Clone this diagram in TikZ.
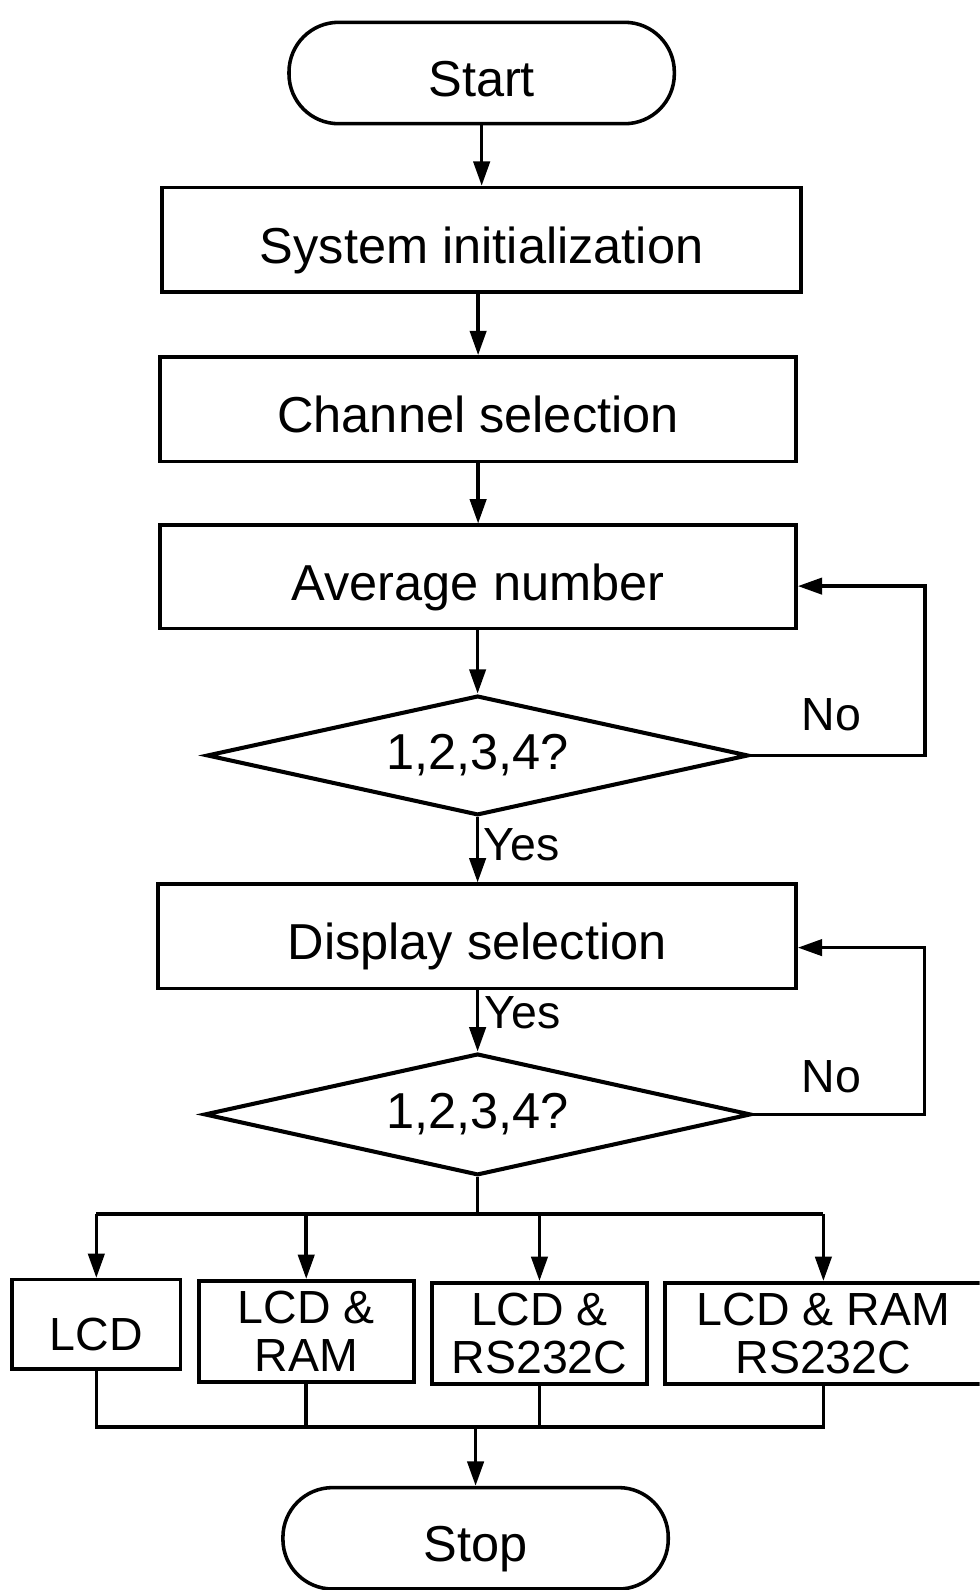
\documentclass[tikz,border=0pt]{standalone}
\usepackage{fontspec}
\setmainfont{Liberation Sans}
\usetikzlibrary{arrows.meta,shapes.geometric,calc}
\begin{document}
\begin{tikzpicture}[x=1bp,y=-1bp,
  every node/.style={font=\fontsize{50}{50}\selectfont, inner sep=0pt},
  lowtext/.style={text height=46bp, text depth=0bp},
  stepbox/.style={draw, line width=3.5bp, rectangle, minimum height=103bp, lowtext},
  term/.style={draw, line width=3.5bp, rectangle, rounded corners=49bp, minimum width=380bp, minimum height=100bp, lowtext},
  decide/.style={draw, line width=4bp, diamond, aspect=4.5},
  outbox/.style={draw, line width=3.5bp, rectangle, align=center, font=\fontsize{46}{47}\selectfont},
  lbl/.style={font=\fontsize{46}{46}\selectfont},
  conn/.style={line width=3.5bp},
  arr/.style={line width=3.5bp, -{Triangle[length=24bp,width=16bp]}}
]
\useasboundingbox (0,0) rectangle (966,1568);
\fill[white] (0,0) rectangle (966,1568);
\clip (0,0) rectangle (966,1568);

\node[term] (start) at (475,72) {Start};
\node[stepbox, minimum width=630bp] (init) at (475,236.5) {System initialization};
\node[stepbox, minimum width=627bp] (chan) at (471.5,403.5) {Channel selection};
\node[stepbox, minimum width=627bp, minimum height=102bp] (avg) at (471.5,569) {Average number};
\node[decide, minimum width=534bp, minimum height=118bp] (d1) at (471,745) {1,2,3,4?};
\node[stepbox, minimum width=629bp] (disp) at (470.5,923.5) {Display selection};
\node[decide, minimum width=539bp, minimum height=120bp] (d2) at (471,1099) {1,2,3,4?};

\node[outbox, minimum width=166bp, minimum height=88bp, text height=51bp, text depth=0bp] (lcd) at (95,1306) {LCD};
\node[outbox, minimum width=212bp, minimum height=100bp] (lram) at (302,1313) {LCD \&\\RAM};
\node[outbox, minimum width=212bp, minimum height=100bp] (lrs) at (532,1315) {LCD \&\\RS232C};
\node[outbox, minimum width=312bp, minimum height=100bp] (lrr) at (812,1315) {LCD \& RAM\\RS232C};

\node[term] (stop) at (469,1517) {Stop};

\coordinate (br) at (471,1197);
\coordinate (mg) at (469,1407);

\draw[arr] (start.south -| init.north) -- (init.north);
\draw[arr] (init.south -| chan.north) -- (chan.north);
\draw[arr] (chan.south -| avg.north) -- (avg.north);
\draw[arr] (avg.south -| d1.north) -- (d1.north);
\draw[arr] (d1.south) -- node[lbl, pos=0.42, right=4bp] {Yes} (d1.south |- disp.north);
\draw[arr] (disp.south -| d2.north) -- node[lbl, pos=0.36, right=5bp] {Yes} (d2.north);

\draw[arr] (d1.east) -- ++(172,0) |- ([yshift=-9bp]avg.east);
\node[lbl] (no1) at (820,705) {No};
\draw[arr] (d2.east) -- ++(169,0) |- ([yshift=-11bp]disp.east);
\node[lbl] (no2) at (820,1062) {No};

\draw[conn] (d2.south) -- (br);
\draw[conn] (br -| lcd.north) -- (br -| lrr.north);
\draw[arr] (br -| lcd.north) -- (lcd.north);
\draw[arr] (br -| lram.north) -- (lram.north);
\draw[arr] (br -| lrs.north) -- (lrs.north);
\draw[arr] (br -| lrr.north) -- (lrr.north);

\draw[conn] (lcd.south) -- (lcd.south |- mg) -- (lrr.south |- mg) -- (lrr.south);
\draw[conn] (lram.south) -- (lram.south |- mg);
\draw[conn] (lrs.south) -- (lrs.south |- mg);
\draw[arr] (mg) -- (stop.north);
\end{tikzpicture}
\end{document}
